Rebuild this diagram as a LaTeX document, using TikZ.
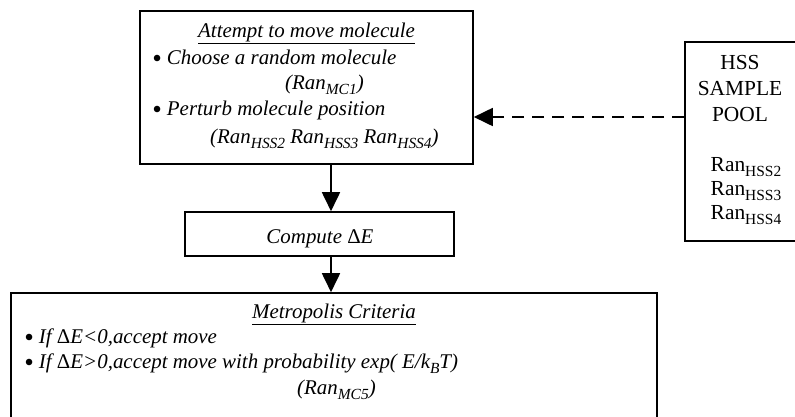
\documentclass[tikz,border=0pt]{standalone}
\usepackage{fontspec}
\setmainfont{Liberation Serif}
\usetikzlibrary{arrows.meta}
\newcommand\mysub[1]{\raisebox{-0.27em}{\fontsize{15.5}{15.5}\selectfont #1}}
\newcommand\mybul{\raisebox{-0.15em}{\scalebox{1.3}{•}}}
\tikzset{
  box/.style={draw, line width=1.6bp, rectangle, inner sep=0pt},
  txt/.style={inner sep=0pt, font=\fontsize{21}{26}\selectfont\itshape},
  utxt/.style={inner sep=0pt, font=\fontsize{21.5}{26}\selectfont},
  arr/.style={line width=1.8bp, -{Triangle[length=19bp,width=18bp]}},
  darr/.style={line width=1.8bp, dash pattern=on 12bp off 8bp, -{Triangle[length=19bp,width=18bp]}}
}
\begin{document}
\begin{tikzpicture}[x=1bp,y=-1bp]
\useasboundingbox (0,0) rectangle (795,416);
% boxes
\node[box, minimum width=333bp, minimum height=153bp] (move) at (306.5,87.5) {};
\node[box, minimum width=115bp, minimum height=199bp] (hss) at (742.5,141.5) {};
\node[box, minimum width=269bp, minimum height=44bp] (compute) at (319.5,234) {};
\node[box, minimum width=646bp, minimum height=150bp] (metro) at (334,368) {};
% top box text
\node[txt, anchor=base] (t1) at (306.5,37) {\underline{Attempt to move molecule}};
\node[txt, anchor=base west] (t2) at (152,64) {\mybul\ Choose a random molecule};
\node[txt, anchor=base west] (t3) at (285,89) {(Ran\mysub{MC1})};
\node[txt, anchor=base west] (t4) at (152,115) {\mybul\ Perturb molecule position};
\node[txt, anchor=base west] (t5) at (210,143) {(Ran\mysub{HSS2} Ran\mysub{HSS3} Ran\mysub{HSS4})};
% HSS text
\node[utxt, anchor=base] (h1) at (740,69) {HSS};
\node[utxt, anchor=base] (h2) at (740,95) {SAMPLE};
\node[utxt, anchor=base] (h3) at (740,121) {POOL};
\node[utxt, anchor=base] (h4) at (746,171) {Ran\mysub{HSS2}};
\node[utxt, anchor=base] (h5) at (746,195) {Ran\mysub{HSS3}};
\node[utxt, anchor=base] (h6) at (746,219) {Ran\mysub{HSS4}};
% compute text
\node[txt, anchor=base] (c1) at (320,243) {Compute {\upshape Δ}E};
% metropolis text
\node[txt, anchor=base] (m1) at (334,318) {\underline{Metropolis Criteria}};
\node[txt, anchor=base west] (m2) at (24,343) {\mybul\ If {\upshape Δ}E<0,accept move};
\node[txt, anchor=base west] (m3) at (24,368) {\mybul\ If {\upshape Δ}E>0,accept move with probability exp( E/k\mysub{B}T)};
\node[txt, anchor=base west] (m4) at (297,394) {(Ran\mysub{MC5})};
% connectors
\coordinate (ax) at (331,0);
\coordinate (dy) at (0,117);
\draw[arr] (move.south -| ax) -- (compute.north -| ax);
\draw[arr] (compute.south -| ax) -- (metro.north -| ax);
\draw[darr] (hss.west |- dy) -- (move.east |- dy);
\end{tikzpicture}
\end{document}
